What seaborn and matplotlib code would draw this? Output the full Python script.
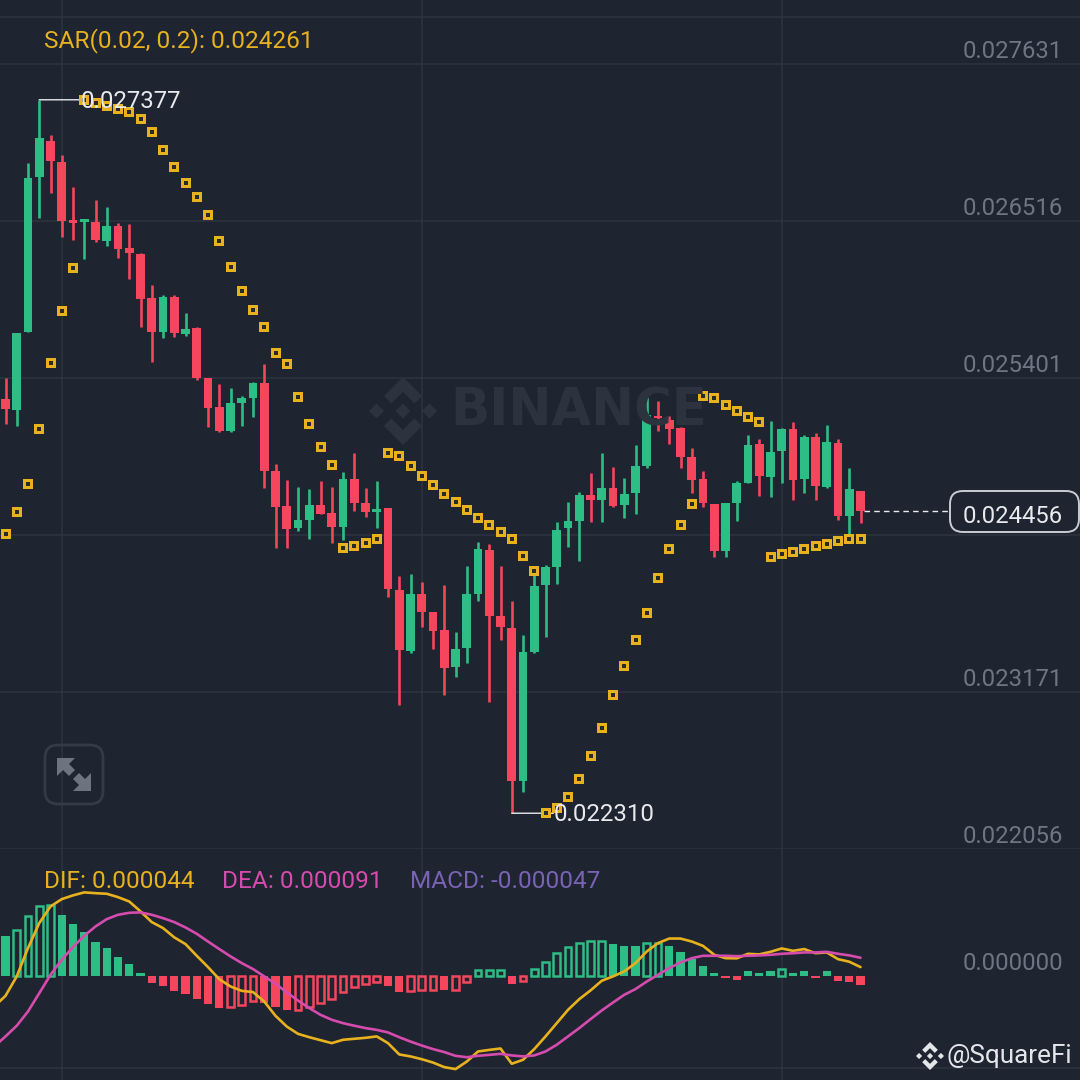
import numpy as np
import pandas as pd
import seaborn as sns
from matplotlib import pyplot as plt
from matplotlib.patches import FancyBboxPatch, Polygon
from matplotlib.transforms import Affine2D

# prices are in units of 0.000001
opens = [25252,25174,25728,26829,27085,26935,26524,26509,26509,26374,26481,26325,26282,25970,25728,25977,25714,25757,25401,25195,
         25025,25224,25259,25366,24741,24492,24336,24393,24499,24443,24343,24684,24514,24450,24478,23896,23463,23867,23740,23612,
         23349,23484,23867,24180,23711,23626,22539,23455,23931,24059,24336,24386,24571,24535,24620,24499,24585,24776,25132,25103,
         25046,24840,24684,24507,24173,24514,24656,24933,24698,24883,25039,24684,24982,24627,24940,24421,24599]
highs = [25401,25721,26928,27377,27127,26985,26758,26531,26666,26616,26502,26495,26289,26062,25991,25991,25863,25764,25401,25359,
         25330,25274,25373,25501,24791,24677,24627,24613,24670,24627,24734,24869,24620,24670,24478,23995,24009,23953,23740,23931,
         23598,24066,24237,24222,24066,23818,23576,24002,24073,24379,24521,24592,24727,24869,24769,24691,24926,25267,25238,25132,
         25053,24904,24741,24507,24514,24670,24997,24968,25096,25046,25089,24997,25011,25068,24968,24762,24599]
lows = [25075,25061,25728,26538,26715,26403,26382,26247,26367,26339,26254,26105,25764,25515,25686,25693,25700,25387,25053,25018,
        25018,25061,25124,24620,24194,24194,24315,24258,24436,24230,24251,24457,24414,24336,23846,23079,23448,23633,23477,23150,
        23278,23377,23818,23100,23541,22310,22461,23448,23562,23938,24201,24102,24379,24379,24485,24407,24436,24762,25025,24933,
        24762,24585,24485,24130,24130,24386,24656,24563,24556,24656,24535,24585,24535,24620,24393,24272,24372]
closes = [25181,25721,26822,27106,26943,26516,26502,26531,26382,26481,26318,26289,25963,25728,25977,25721,25749,25401,25188,25025,
          25224,25259,25366,24741,24485,24329,24393,24499,24436,24343,24684,24514,24450,24471,23903,23470,23867,23740,23605,23342,
          23477,23867,24187,23711,23633,22539,23455,23924,24059,24322,24386,24571,24535,24620,24492,24578,24776,25139,25117,25039,
          24840,24677,24514,24173,24514,24656,24926,24705,24876,25039,24677,24982,24634,24947,24421,24613,24456]
sar = [24294,24450,24649,25039,25508,25877,26183,27376,27355,27333,27312,27291,27241,27149,27021,26900,26786,26687,26559,26374,
       26190,26019,25884,25764,25579,25501,25266,25075,24911,24784,24194,24208,24230,24258,24869,24847,24776,24705,24642,24578,
       24521,24464,24407,24357,24308,24258,24137,24031,22312,22348,22426,22554,22717,22916,23150,23356,23541,23732,23981,24187,
       24357,24507,25274,25259,25210,25167,25124,25089,24130,24152,24166,24187,24208,24222,24244,24258,24261]
price_ticks = [27631,26516,25401,24286,23171,22056]

macd = [202,229,303,353,358,308,263,220,173,140,96,61,13,-35,-52,-77,-91,-116,-143,-162,
        -160,-148,-126,-135,-160,-173,-172,-155,-135,-118,-81,-57,-40,-30,-50,-84,-79,-74,-71,-74,
        -71,-32,27,30,30,-39,-24,34,71,113,143,168,175,178,160,150,150,168,168,151,
        121,84,50,13,-12,-20,22,13,22,34,13,22,-12,22,-24,-32,-47]
hollow_bars = [1,2,3,4,20,21,22,26,27,28,29,30,31,32,33,36,37,38,40,41,42,43,44,46,47,48,49,50,51,52,53,57,58,69]
# the two lines start one candle left of the picture edge
dif = [-155,-101,-3,140,266,350,387,406,421,417,414,397,375,325,271,241,194,160,101,44,-17,
       -54,-76,-82,-130,-202,-256,-293,-310,-325,-340,-323,-318,-313,-306,-340,-397,-407,-421,-438,-461,
       -471,-433,-382,-374,-367,-444,-424,-370,-306,-239,-172,-118,-74,-25,-3,22,64,123,165,188,
       188,173,151,106,89,88,111,108,121,138,126,135,114,118,84,71,44]
dea = [-357,-306,-252,-180,-88,5,81,145,202,249,286,308,318,320,308,291,271,244,212,173,135,
       98,64,34,-3,-40,-84,-125,-163,-197,-222,-239,-252,-264,-273,-286,-310,-332,-352,-370,-385,
       -404,-411,-404,-399,-394,-402,-407,-402,-382,-348,-306,-264,-219,-175,-135,-96,-67,-29,5,39,
       67,89,101,101,101,99,101,103,106,111,114,118,118,121,111,103,91]
macd_floor = -466

BG = "#1E2430"
GRID = "#2D3440"
GREEN = "#2EBD85"
RED = "#F6465D"
YELLOW = "#E8B21F"
PINK = "#D64CAE"
PURPLE = "#7A63B4"
GREY = "#6F7683"
WHITE = "#E8EAED"

sns.set_theme(style="dark", rc={"axes.facecolor": BG, "figure.facecolor": BG})
plt.rcParams["font.family"] = ["Roboto", "DejaVu Sans"]

candles = pd.DataFrame({"o": opens, "h": highs, "l": lows, "c": closes, "sar": sar, "macd": macd})
candles["i"] = candles.index
candles["up"] = candles["c"] >= candles["o"]
candles["hollow"] = candles["i"].isin(hollow_bars)
lines = pd.DataFrame({"i": np.arange(-1, 77), "dif": dif, "dea": dea})

fig = plt.figure(figsize=(10.8, 10.8), dpi=100)
ax = fig.add_axes([0, 231 / 1080, 1, 849 / 1080])
ax2 = fig.add_axes([0, 0, 1, 231 / 1080], sharex=ax)
# pixel coordinates for the furniture: logo, buttons, boxes
px = Affine2D().scale(1, -1).translate(0, 1080)


def logo(cx, cy, r, color, z):
    diamond = [(0, 0.22), (0.22, 0), (0, -0.22), (-0.22, 0)]
    chevron = [(0, 1), (0.56, 0.44), (0.34, 0.22), (0, 0.56), (-0.34, 0.22), (-0.56, 0.44)]
    shapes = [diamond,
              [(x - 0.78, y) for x, y in diamond],
              [(x + 0.78, y) for x, y in diamond],
              chevron,
              [(x, -y) for x, y in chevron]]
    for s in shapes:
        pts = [(cx + x * r, cy + y * r) for x, y in s]
        fig.add_artist(Polygon(pts, closed=True, color=color, lw=0, transform=px, zorder=z))


# main pane
for a in (ax, ax2):
    a.set_facecolor(BG)
    a.patch.set_alpha(0)
    sns.despine(ax=a, left=True, bottom=True, right=True, top=True)
    a.tick_params(left=False, bottom=False, labelleft=False, labelbottom=False)
    for v in (5, 37, 69):
        a.axvline(v, color=GRID, lw=1.1, zorder=0)

for p in price_ticks:
    ax.axhline(p / 1e6, color=GRID, lw=1.1, zorder=0)
    if p != 24286:
        ax.annotate(f"{p / 1e6:.6f}", xy=(1, p / 1e6), xycoords=("axes fraction", "data"), xytext=(-12, 9),
                    textcoords="offset points", ha="right", va="center", color=GREY, fontsize=17.2, zorder=7)
ax.axhline(0.027966, color=GRID, lw=1.1, zorder=0)

for color, part in ((GREEN, candles[candles.up]), (RED, candles[~candles.up])):
    ax.vlines(part.i, part.l / 1e6, part.h / 1e6, color=color, lw=1.9, zorder=3)
    body = (part.c - part.o).abs()
    ax.bar(part.i, body / 1e6, bottom=part[["o", "c"]].min(axis=1) / 1e6, width=0.77, color=color, lw=0, zorder=3)

sns.scatterplot(x=candles.i, y=candles.sar / 1e6, marker="s", s=50, color=YELLOW, linewidth=0,
                zorder=5, ax=ax, legend=False)
sns.scatterplot(x=candles.i, y=candles.sar / 1e6, marker="s", s=5, color="#2A2A28", linewidth=0,
                zorder=5.5, ax=ax, legend=False)

hi_i = int(np.argmax(highs))
lo_i = int(np.argmin(lows))
for i, v in ((hi_i, highs[hi_i]), (lo_i, lows[lo_i])):
    ax.annotate("", xy=(i, v / 1e6), xytext=(30, 0), textcoords="offset points",
                arrowprops=dict(arrowstyle="-", color=WHITE, lw=1, shrinkA=0, shrinkB=0), zorder=4)
    ax.annotate(f"{v / 1e6:.6f}", xy=(i, v / 1e6), xytext=(30, -1.2), textcoords="offset points",
                va="center", color=WHITE, fontsize=17.3, zorder=8)

# last price tag
last = closes[-1] / 1e6
ax.plot([76.3, 83.9], [last, last], color=WHITE, lw=1, ls=(0, (4, 3)), zorder=4)
fig.add_artist(FancyBboxPatch((950, 491), 129, 41, boxstyle="round,pad=0,rounding_size=13", mutation_scale=1,
                              fc=BG, ec="#C9CCD1", lw=1.4, transform=px, zorder=6))
fig.text(1063 / 1080, 1 - 516 / 1080, f"{last:.6f}", ha="right", va="center", color=WHITE, fontsize=17.2, zorder=7)

ax.set_xlim(-0.489, 95.51)
ax.set_ylim(0.022056, 0.0280856)

fig.text(44 / 1080, 1 - 41 / 1080, f"SAR(0.02, 0.2): {sar[-1] / 1e6:.6f}", color=YELLOW, fontsize=17.6, va="center")

# watermark
logo(403, 411, 34, "#2C323E", 1)
fig.text(450 / 1080, 1 - 412 / 1080, "BINANCE", color="#2C323E", fontsize=37, fontweight="bold",
         family="DejaVu Sans", va="center", zorder=1)

# expand button
fig.add_artist(FancyBboxPatch((45, 745), 58, 59, boxstyle="round,pad=0,rounding_size=13", mutation_scale=1,
                              fc="none", ec="#343B48", lw=2, transform=px, zorder=6))
for pts in ([(57, 758), (75, 758), (69, 764), (75, 770), (69, 776), (63, 770), (57, 776)],
            [(91, 791), (73, 791), (79, 785), (73, 779), (79, 773), (85, 779), (91, 773)]):
    fig.add_artist(Polygon(pts, closed=True, color="#6C7480", lw=0, transform=px, zorder=6))

# macd pane
ax2.axhline(macd_floor, color=GRID, lw=1.1, zorder=0)
for color, up in ((GREEN, True), (RED, False)):
    side = candles[(candles.macd >= 0) == up]
    solid = side[~side.hollow]
    empty = side[side.hollow]
    sns.barplot(x=solid.i.values, y=solid.macd.values, color=color, saturation=1, native_scale=True, width=0.74,
                errorbar=None, linewidth=0, zorder=2, ax=ax2)
    sns.barplot(x=empty.i.values, y=empty.macd.values, color=color, saturation=1, native_scale=True, width=0.62,
                errorbar=None, fill=False, linewidth=1.8, zorder=2, ax=ax2)
sns.lineplot(data=lines, x="i", y="dif", color=YELLOW, lw=1.9, estimator=None, zorder=4, ax=ax2)
sns.lineplot(data=lines, x="i", y="dea", color=PINK, lw=1.9, estimator=None, zorder=4, ax=ax2)
ax2.set_xlabel("")
ax2.set_ylabel("")
ax2.set_xlim(-0.489, 95.51)
ax2.set_ylim(-526, 640)
ax2.annotate("0.000000", xy=(1, 0), xycoords=("axes fraction", "data"), xytext=(-12, 9), textcoords="offset points",
             ha="right", va="center", color=GREY, fontsize=17.2)
ax2.tick_params(left=False, bottom=False, labelleft=False, labelbottom=False)

fig.text(44 / 1080, 1 - 881 / 1080, f"DIF: {dif[-1] / 1e6:.6f}", color=YELLOW, fontsize=17.6, va="center")
fig.text(222 / 1080, 1 - 881 / 1080, f"DEA: {dea[-1] / 1e6:.6f}", color=PINK, fontsize=17.6, va="center")
fig.text(410 / 1080, 1 - 881 / 1080, f"MACD: {macd[-1] / 1e6:.6f}", color=PURPLE, fontsize=17.6, va="center")

# signature
logo(930, 1056, 14, "#E4E6E9", 9)
fig.text(947 / 1080, 1 - 1056 / 1080, "@SquareFi", color="#E4E6E9", fontsize=18.8, va="center", zorder=9)

fig.savefig("out.png", dpi=100, facecolor=BG)
